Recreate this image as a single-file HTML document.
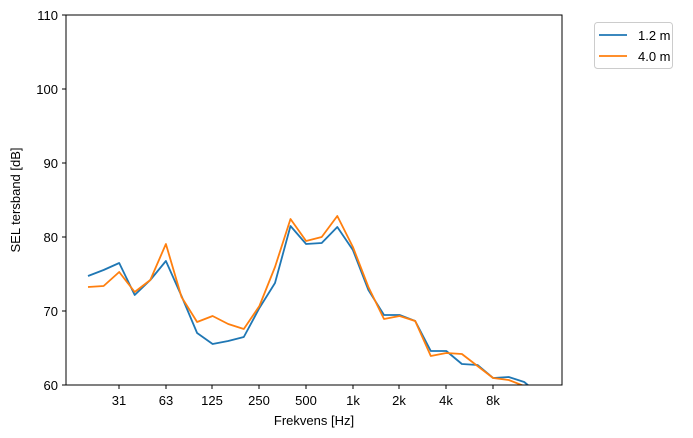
<!DOCTYPE html>
<html><head><style>body{margin:0;background:#fff}svg{display:block}text{font-family:"Liberation Sans","DejaVu Sans",sans-serif;font-size:13px;fill:#000}</style></head><body>
<svg width="693" height="438" viewBox="0 0 693 438" xmlns="http://www.w3.org/2000/svg">
<defs><clipPath id="c"><rect x="66" y="15" width="496" height="370"/></clipPath></defs>
<g clip-path="url(#c)" fill="none" stroke-width="1.8" stroke-linejoin="round">
<polyline stroke="#1f77b4" points="88,276 103.6,270 119.2,263 134.7,295 150.3,280 165.9,261 181.5,296 197.1,333 212.6,344 228.2,341 243.8,337 259.4,308 275,283 290.5,226 306.1,244 321.7,243 337.3,227 352.9,250 368.4,290 384,315 399.6,315 415.2,321 430.8,351 446.3,351 461.9,364 477.5,365 493.1,378 508.7,377 524.2,382 540,395"/>
<polyline stroke="#ff7f0e" points="88,287 103.6,286 119.2,272 134.7,292 150.3,280 165.9,244 181.5,297 197.1,322 212.6,316 228.2,324 243.8,329 259.4,306 275,267 290.5,219 306.1,241 321.7,237 337.3,216 352.9,247 368.4,287 384,319 399.6,316 415.2,321 430.8,356 446.3,353 461.9,354 477.5,366 493.1,378 508.7,380 524.2,386 540,395"/>
</g>
<rect x="66" y="15" width="496" height="370" fill="none" stroke="#000" stroke-width="1"/>
<g stroke="#000" stroke-width="1">
<line x1="66" y1="385" x2="62" y2="385"/><line x1="66" y1="311" x2="62" y2="311"/><line x1="66" y1="237" x2="62" y2="237"/><line x1="66" y1="163" x2="62" y2="163"/><line x1="66" y1="89" x2="62" y2="89"/><line x1="66" y1="15" x2="62" y2="15"/>
<line x1="119" y1="385" x2="119" y2="389"/><line x1="166" y1="385" x2="166" y2="389"/><line x1="212" y1="385" x2="212" y2="389"/><line x1="259" y1="385" x2="259" y2="389"/><line x1="306" y1="385" x2="306" y2="389"/><line x1="353" y1="385" x2="353" y2="389"/><line x1="399" y1="385" x2="399" y2="389"/><line x1="446" y1="385" x2="446" y2="389"/><line x1="493" y1="385" x2="493" y2="389"/>
</g>
<g text-anchor="end">
<text x="58" y="390">60</text><text x="58" y="316">70</text><text x="58" y="242">80</text><text x="58" y="168">90</text><text x="58" y="94">100</text><text x="58" y="20">110</text>
</g>
<g text-anchor="middle">
<text x="119" y="405">31</text><text x="166" y="405">63</text><text x="212" y="405">125</text><text x="259" y="405">250</text><text x="306" y="405">500</text><text x="353" y="405">1k</text><text x="399" y="405">2k</text><text x="446" y="405">4k</text><text x="493" y="405">8k</text>
<text x="314" y="425">Frekvens [Hz]</text>
<text transform="translate(20,200) rotate(-90)">SEL tersband [dB]</text>
</g>
<rect x="594.5" y="22.5" width="78" height="46" rx="3" fill="#fff" stroke="#ccc"/>
<line x1="599" y1="35" x2="627" y2="35" stroke="#1f77b4" stroke-width="1.8"/>
<line x1="599" y1="56" x2="627" y2="56" stroke="#ff7f0e" stroke-width="1.8"/>
<text x="638" y="40">1.2 m</text><text x="638" y="61">4.0 m</text>
</svg>
</body></html>
